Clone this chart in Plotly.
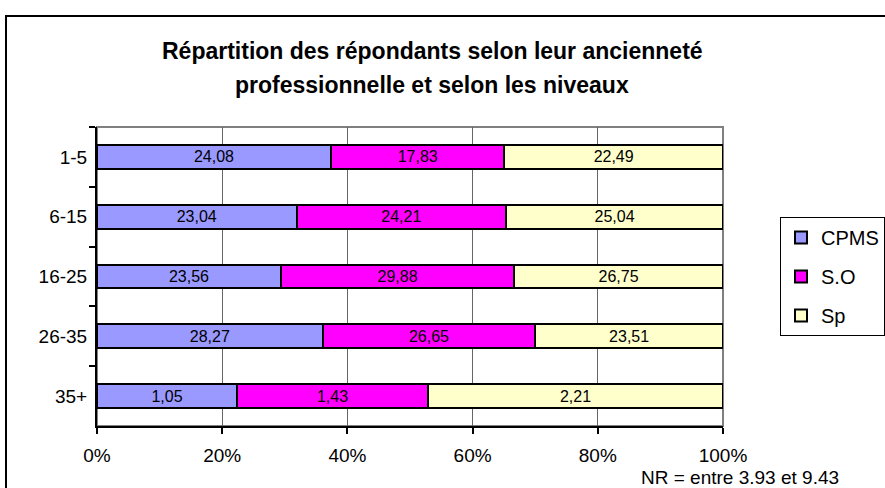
import plotly.graph_objects as go

categories = ["1-5", "6-15", "16-25", "26-35", "35+"]
cpms = [24.08, 23.04, 23.56, 28.27, 1.05]
so = [17.83, 24.21, 29.88, 26.65, 1.43]
sp = [22.49, 25.04, 26.75, 23.51, 2.21]
series = [("CPMS", cpms, "#9999FF"), ("S.O", so, "#FF00FF"), ("Sp", sp, "#FFFFCC")]
x_ticks = [0, 20, 40, 60, 80, 100]

title_lines = ["Répartition des répondants selon leur ancienneté",
               "professionnelle et selon les niveaux"]
note = "NR = entre 3.93 et 9.43"

FONT = "Liberation Sans, Arial, sans-serif"

fig = go.Figure()
for i, (name, vals, col) in enumerate(series):
    fig.add_trace(go.Bar(
        y=categories, x=vals, name=name, orientation="h",
        marker=dict(color=col, line=dict(color="black", width=2)),
        text=[f"{v:.2f}".replace(".", ",") for v in vals],
        textposition="inside", insidetextanchor="middle", textangle=0,
        constraintext="none",
        textfont=dict(family=FONT, size=16, color="black"),
        legendgroup=f"g{i}", hoverinfo="skip",
    ))

L, R, T, B = 97, 723, 127, 426
W, H = 885, 488
def px(x):
    return (x - L) / (R - L)
def py(y):
    return (B - y) / (B - T)

fig.update_layout(
    width=W, height=H,
    margin=dict(l=L, r=W - R, t=T, b=H - B, autoexpand=False),
    barmode="stack", barnorm="percent", bargap=0.6,
    paper_bgcolor="white", plot_bgcolor="white",
    font=dict(family=FONT, color="black"),
    showlegend=True,
    legend=dict(x=px(780), y=py(217), xanchor="left", yanchor="top",
                bordercolor="black", borderwidth=1, bgcolor="white",
                font=dict(size=20, family=FONT), tracegroupgap=10,
                traceorder="grouped", itemwidth=30),
    xaxis=dict(range=[0, 100], tickvals=x_ticks, ticktext=[f"{v}%" for v in x_ticks],
               showgrid=True, gridcolor="#666666", gridwidth=1,
               showline=True, linecolor="black", linewidth=2,
               ticks="outside", ticklen=6, tickcolor="black", tickwidth=2,
               ticklabelstandoff=5,
               tickfont=dict(size=19), zeroline=False, fixedrange=True),
    yaxis=dict(categoryorder="array", categoryarray=categories, autorange="reversed",
               showline=True, linecolor="black", linewidth=2,
               ticks="outside", ticklen=6, tickcolor="black", tickwidth=2,
               tickson="boundaries", tickfont=dict(size=19), ticklabelstandoff=4,
               showgrid=False, fixedrange=True),
    shapes=[
        dict(type="rect", xref="paper", yref="paper", x0=0, x1=1, y0=0, y1=1,
             line=dict(color="#808080", width=2), layer="below"),
        dict(type="rect", xref="paper", yref="paper", x0=px(6), x1=px(900),
             y0=py(500), y1=py(16), line=dict(color="black", width=2), layer="above"),
    ],
    annotations=[
        dict(text=f"<b>{title_lines[0]}</b>", xref="paper", yref="paper",
             x=px(432), y=py(51), showarrow=False, font=dict(size=23, family=FONT),
             xanchor="center", yanchor="middle"),
        dict(text=f"<b>{title_lines[1]}</b>", xref="paper", yref="paper",
             x=px(432), y=py(85), showarrow=False, font=dict(size=23, family=FONT),
             xanchor="center", yanchor="middle"),
        dict(text=note, xref="paper", yref="paper", x=px(740), y=py(478),
             showarrow=False, font=dict(size=19, family=FONT),
             xanchor="center", yanchor="middle"),
    ],
)

fig.write_html("out.html", config={"displayModeBar": False},
               post_script="document.body.style.margin='0';document.body.style.overflow='hidden';")
